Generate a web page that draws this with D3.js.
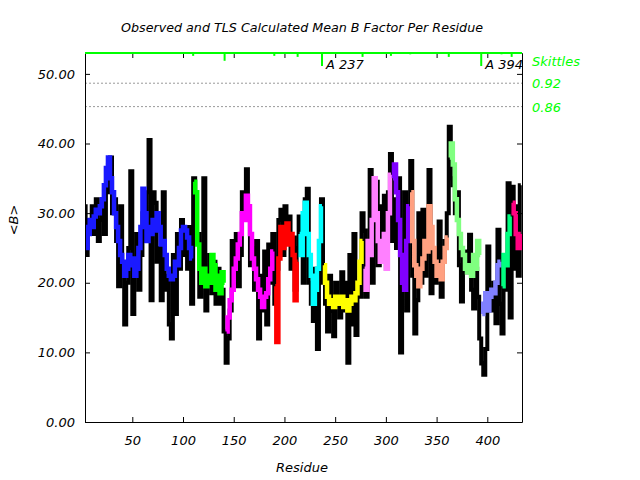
<!DOCTYPE html>
<html><head><meta charset="utf-8">
<script src="https://cdn.jsdelivr.net/npm/d3@7"></script>
<style>
body{margin:0;background:#fff}
text{font-family:"DejaVu Sans",sans-serif;font-style:italic}
</style>
</head><body><svg id="c" width="640" height="480"></svg>
<script>
// residues 3,5,...,433
const firstResidue = 3, residueStep = 2;
const observed = [
31,24,29,27,31,27,32,26,29,31,27,33,37,38,30,32,26,19.5,31,22,14,20,25,36,15.5,22,27,19,24,30,26,33,40.5,17.5,33,31.5,23,25,17.5,33,19,21,14,12,24,15.5,27,22,29,24,27,22,28,17,
35,26,27,18,20,35,16,20,24,18.5,23,17,22,17,19,13,8.5,12,16,26,20,27,19.5,24,33,29,36.3,31,22.5,25,19,26,12,21,16,24.5,14,25.5,20,27,17,22,29,30.5,24,31,26,29.5,22,26.5,19,25,
29.5,24,20,32,33.5,20,17,14.5,22,10.5,20,32,20,17,13,21,16,12.3,20,18,15,21.5,16,20,8.5,24,14,27,12.5,20,18,30,27.5,18,25,36.2,20,28,34.5,22.5,31,24,32.5,22,33,38.5,26,32,25,35,10,22,33,16,30,
37.5,21,12.7,17.5,30,20,30.5,21,25,36.2,18.5,25,20,21,28.8,18,23,26,30,42.4,35,34,30,33,22.5,17.3,23.5,24.5,21.5,26.9,19,16.3,22,18,12,8.4,6.8,10.5,25.2,18.5,16,20,14.2,27.6,17,12.7,24,19,34.3,15,33.8,22,31,21,34
];
const tls = [
28,25,27,29,28,29.5,30.5,30,31,32,34,36.5,38,35,33,30,28,26,24,23,21,22,24,22.5,23.5,21,22,25,28,33.5,30,26,28,27,29,27.5,30,28,25.5,26,24,22,21,20.5,21,23,22.5,25,27.5,28,27.5,26.5,25,23.5,
34.5,33,25.5,22,20,22,19.5,21,20,24,22.5,19,21,18.5,21.5,20,
13,15,17.5,19,22,23.5,25.5,27,30,29,32.5,31,27,23.5,22,20.5,19,18,16.5,18,18.5,20.5,22,24.5,
19.5,11.5,23.5,28,25,27,28.5,25.5,27,24,17.5,23,
27,24,30,31.5,27,24,21,17,19,22,26,31,
22.5,20,18,17,17.5,16.5,18,17.5,17,18,16.5,17.5,16,17,18,17.5,18.5,20,23,26,
22,19,26,24,29,35,30,26,23,25,27,22,30,35.5,
35,37,33,29,24,20,19,26,31,
33,26,22.5,21,19.5,22,23.5,26,24.5,31,28,25,23,21,22.5,20.5,23,25,26.5,
38,40,37,32,29,27,25,24,22,21.5,22.5,21,24,22,26,24,
15.5,17,18.5,16,18,19,18.5,20,22.5,23,
19.5,24,22.5,27,29.5,
31.5,30,27,25,27
];
const segStarts = [3,111,143,191,215,239,279,307,325,363,395,415,425];
const segColors = ["#1a1aff","#00ff00","#ff00ff","#ff0000","#00ffff","#ffff00","#ff80ff","#8000ff","#ffa080","#80ff80","#8080ff","#00ff80","#ff0080"];
const skittleResidues = [110,141,190,213,237,277,305,324,362,394,414,424];
const skittleScores = [0.22,0.6,0.22,0.3,1.0,0.3,0.22,0.1,0.3,1.0,0.1,0.3];
const skittleLabels = ["","","","","A 237","","","","","A 394","",""];
const thresholdNames = ["0.92","0.86"];
const thresholdB = [48.66,45.3];
const xTicks = [50,100,150,200,250,300,350,400];
const yTicks = [0,10,20,30,40,50];

const svg = d3.select("#c");
const L=85,R=522,T=53,B=422;
const x = d3.scaleLinear().domain([3.37,434.2]).range([L,R]);
const y = d3.scaleLinear().domain([0,53]).range([B,T]);
const skLen = d3.scaleLinear().domain([0,1]).range([0,13]);

svg.append("rect").attr("width",640).attr("height",480).attr("fill","#fff");
svg.append("defs").append("clipPath").attr("id","clip").append("rect")
  .attr("x",L).attr("y",T).attr("width",R-L).attr("height",B-T);

const res = observed.map((_,i)=>firstResidue+i*residueStep);

svg.selectAll("line.thr").data(thresholdB).enter().append("line")
  .attr("x1",L).attr("x2",R).attr("y1",d=>y(d)).attr("y2",d=>y(d))
  .attr("stroke","#999").attr("stroke-width",1).attr("stroke-dasharray","2,2");

const line = d3.line().x(d=>x(d[0])).y(d=>y(d[1])).curve(d3.curveStep);
const g = svg.append("g").attr("clip-path","url(#clip)");
g.append("path").datum(res.map((r,i)=>[r,observed[i]]))
  .attr("d",line).attr("fill","none").attr("stroke","#000").attr("stroke-width",4);

segStarts.forEach((s,k)=>{
  const e = k<segStarts.length-1 ? segStarts[k+1] : Infinity;
  const pts = res.map((r,i)=>[r,tls[i]]).filter(d=>d[0]>=s && d[0]<e);
  g.append("path").datum(pts).attr("d",line).attr("fill","none")
   .attr("stroke",segColors[k]).attr("stroke-width",4.5);
});

const fmt = d3.format(".2f");
const ax = [
  svg.append("g").attr("transform",`translate(${L},0)`).call(d3.axisLeft(y).tickValues(yTicks).tickSize(-5).tickSizeOuter(0).tickPadding(10).tickFormat(fmt)),
  svg.append("g").attr("transform",`translate(${R},0)`).call(d3.axisRight(y).tickValues(yTicks).tickSize(-5).tickSizeOuter(0).tickFormat("")),
  svg.append("g").attr("transform",`translate(0,${B})`).call(d3.axisBottom(x).tickValues(xTicks).tickSize(-5).tickSizeOuter(0).tickPadding(14)),
  svg.append("g").attr("transform",`translate(0,${T})`).call(d3.axisTop(x).tickValues(xTicks).tickSize(-5).tickSizeOuter(0).tickFormat(""))
];
ax.forEach(a=>{a.selectAll("text").attr("font-family","DejaVu Sans").attr("font-style","italic").attr("font-size",13).attr("fill","#000");
  a.selectAll("line").attr("stroke","#000");a.select(".domain").attr("stroke","#000");});

svg.append("line").attr("x1",L).attr("x2",R).attr("y1",T).attr("y2",T).attr("stroke","#00ff00").attr("stroke-width",2);
svg.selectAll("line.sk").data(skittleResidues).enter().append("line")
  .attr("x1",d=>x(d)).attr("x2",d=>x(d)).attr("y1",T)
  .attr("y2",(d,i)=>T+skLen(skittleScores[i])).attr("stroke","#00ff00").attr("stroke-width",2);
svg.selectAll("text.skl").data(skittleResidues).enter().append("text")
  .attr("x",d=>x(d)+4).attr("y",69).attr("font-size",13).attr("fill","#000")
  .text((d,i)=>skittleLabels[i]);

svg.append("text").attr("x",532).attr("y",66).attr("font-size",13).attr("fill","#00ff00").text("Skittles");
svg.selectAll("text.thr").data(thresholdNames).enter().append("text")
  .attr("x",532).attr("y",(d,i)=>y(thresholdB[i])+5).attr("font-size",13).attr("fill","#00ff00").text(d=>d);

svg.append("text").attr("x",302).attr("y",32).attr("text-anchor","middle").attr("font-size",12.7).attr("fill","#000")
  .text("Observed and TLS Calculated Mean B Factor Per Residue");
svg.append("text").attr("x",302).attr("y",472).attr("text-anchor","middle").attr("font-size",13).attr("fill","#000").text("Residue");
svg.append("text").attr("transform","translate(18,220) rotate(-90)").attr("text-anchor","middle").attr("font-size",13).attr("fill","#000").text("<B>");
</script></body></html>
